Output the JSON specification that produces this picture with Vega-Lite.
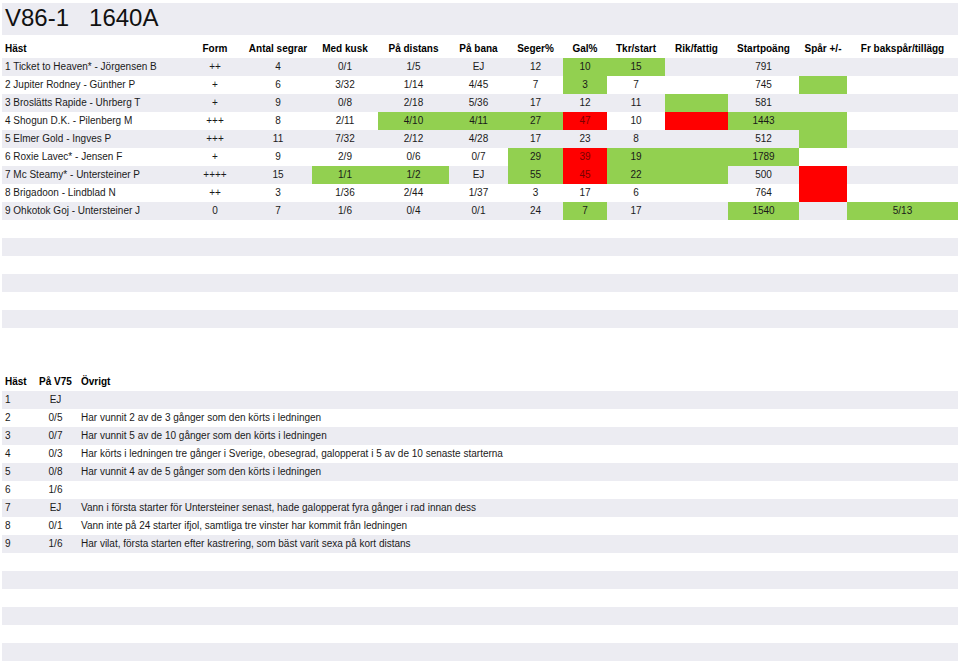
{
  "$schema": "https://vega.github.io/schema/vega-lite/v6.json",
  "padding": {"left": 2, "top": 3, "right": 2, "bottom": 0},
  "background": "white",
  "config": {
    "view": {"stroke": null},
    "text": {"font": "Liberation Sans", "fontSize": 10, "color": "#1a1a1a"},
    "concat": {"spacing": 0}
  },
  "datasets": {
    "stripes": [{"row": 1}, {"row": 3}, {"row": 5}, {"row": 7}, {"row": 9}, {"row": 11}, {"row": 13}, {"row": 15}],
    "up": [
      {"row": 0, "col": "a", "txt": "Häst"}, {"row": 0, "col": "b", "txt": "Form"}, {"row": 0, "col": "c", "txt": "Antal segrar"}, {"row": 0, "col": "d", "txt": "Med kusk"}, {"row": 0, "col": "e", "txt": "På distans"}, {"row": 0, "col": "f", "txt": "På bana"}, {"row": 0, "col": "g", "txt": "Seger%"}, {"row": 0, "col": "h", "txt": "Gal%"}, {"row": 0, "col": "i", "txt": "Tkr/start"}, {"row": 0, "col": "j", "txt": "Rik/fattig"}, {"row": 0, "col": "k", "txt": "Startpoäng"}, {"row": 0, "col": "l", "txt": "Spår +/-"}, {"row": 0, "col": "m", "txt": "Fr bakspår/tillägg"},
      {"row": 1, "col": "a", "txt": "1 Ticket to Heaven* - Jörgensen B"}, {"row": 1, "col": "b", "txt": "++"}, {"row": 1, "col": "c", "txt": "4"}, {"row": 1, "col": "d", "txt": "0/1"}, {"row": 1, "col": "e", "txt": "1/5"}, {"row": 1, "col": "f", "txt": "EJ"}, {"row": 1, "col": "g", "txt": "12"}, {"row": 1, "col": "h", "txt": "10", "fill": "g"}, {"row": 1, "col": "i", "txt": "15", "fill": "g"}, {"row": 1, "col": "k", "txt": "791"},
      {"row": 2, "col": "a", "txt": "2 Jupiter Rodney - Günther P"}, {"row": 2, "col": "b", "txt": "+"}, {"row": 2, "col": "c", "txt": "6"}, {"row": 2, "col": "d", "txt": "3/32"}, {"row": 2, "col": "e", "txt": "1/14"}, {"row": 2, "col": "f", "txt": "4/45"}, {"row": 2, "col": "g", "txt": "7"}, {"row": 2, "col": "h", "txt": "3", "fill": "g"}, {"row": 2, "col": "i", "txt": "7"}, {"row": 2, "col": "k", "txt": "745"}, {"row": 2, "col": "l", "txt": "", "fill": "g"},
      {"row": 3, "col": "a", "txt": "3 Broslätts Rapide - Uhrberg T"}, {"row": 3, "col": "b", "txt": "+"}, {"row": 3, "col": "c", "txt": "9"}, {"row": 3, "col": "d", "txt": "0/8"}, {"row": 3, "col": "e", "txt": "2/18"}, {"row": 3, "col": "f", "txt": "5/36"}, {"row": 3, "col": "g", "txt": "17"}, {"row": 3, "col": "h", "txt": "12"}, {"row": 3, "col": "i", "txt": "11"}, {"row": 3, "col": "j", "txt": "", "fill": "g"}, {"row": 3, "col": "k", "txt": "581"},
      {"row": 4, "col": "a", "txt": "4 Shogun D.K. - Pilenberg M"}, {"row": 4, "col": "b", "txt": "+++"}, {"row": 4, "col": "c", "txt": "8"}, {"row": 4, "col": "d", "txt": "2/11"}, {"row": 4, "col": "e", "txt": "4/10", "fill": "g"}, {"row": 4, "col": "f", "txt": "4/11", "fill": "g"}, {"row": 4, "col": "g", "txt": "27", "fill": "g"}, {"row": 4, "col": "h", "txt": "47", "fill": "r"}, {"row": 4, "col": "i", "txt": "10"}, {"row": 4, "col": "j", "txt": "", "fill": "r"}, {"row": 4, "col": "k", "txt": "1443", "fill": "g"}, {"row": 4, "col": "l", "txt": "", "fill": "g"},
      {"row": 5, "col": "a", "txt": "5 Elmer Gold - Ingves P"}, {"row": 5, "col": "b", "txt": "+++"}, {"row": 5, "col": "c", "txt": "11"}, {"row": 5, "col": "d", "txt": "7/32"}, {"row": 5, "col": "e", "txt": "2/12"}, {"row": 5, "col": "f", "txt": "4/28"}, {"row": 5, "col": "g", "txt": "17"}, {"row": 5, "col": "h", "txt": "23"}, {"row": 5, "col": "i", "txt": "8"}, {"row": 5, "col": "k", "txt": "512"}, {"row": 5, "col": "l", "txt": "", "fill": "g"},
      {"row": 6, "col": "a", "txt": "6 Roxie Lavec* - Jensen F"}, {"row": 6, "col": "b", "txt": "+"}, {"row": 6, "col": "c", "txt": "9"}, {"row": 6, "col": "d", "txt": "2/9"}, {"row": 6, "col": "e", "txt": "0/6"}, {"row": 6, "col": "f", "txt": "0/7"}, {"row": 6, "col": "g", "txt": "29", "fill": "g"}, {"row": 6, "col": "h", "txt": "39", "fill": "r"}, {"row": 6, "col": "i", "txt": "19", "fill": "g"}, {"row": 6, "col": "j", "txt": "", "fill": "g"}, {"row": 6, "col": "k", "txt": "1789", "fill": "g"},
      {"row": 7, "col": "a", "txt": "7 Mc Steamy* - Untersteiner P"}, {"row": 7, "col": "b", "txt": "++++"}, {"row": 7, "col": "c", "txt": "15"}, {"row": 7, "col": "d", "txt": "1/1", "fill": "g"}, {"row": 7, "col": "e", "txt": "1/2", "fill": "g"}, {"row": 7, "col": "f", "txt": "EJ"}, {"row": 7, "col": "g", "txt": "55", "fill": "g"}, {"row": 7, "col": "h", "txt": "45", "fill": "r"}, {"row": 7, "col": "i", "txt": "22", "fill": "g"}, {"row": 7, "col": "j", "txt": "", "fill": "g"}, {"row": 7, "col": "k", "txt": "500"}, {"row": 7, "col": "l", "txt": "", "fill": "r"},
      {"row": 8, "col": "a", "txt": "8 Brigadoon - Lindblad N"}, {"row": 8, "col": "b", "txt": "++"}, {"row": 8, "col": "c", "txt": "3"}, {"row": 8, "col": "d", "txt": "1/36"}, {"row": 8, "col": "e", "txt": "2/44"}, {"row": 8, "col": "f", "txt": "1/37"}, {"row": 8, "col": "g", "txt": "3"}, {"row": 8, "col": "h", "txt": "17"}, {"row": 8, "col": "i", "txt": "6"}, {"row": 8, "col": "k", "txt": "764"}, {"row": 8, "col": "l", "txt": "", "fill": "r"},
      {"row": 9, "col": "a", "txt": "9 Ohkotok Goj - Untersteiner J"}, {"row": 9, "col": "b", "txt": "0"}, {"row": 9, "col": "c", "txt": "7"}, {"row": 9, "col": "d", "txt": "1/6"}, {"row": 9, "col": "e", "txt": "0/4"}, {"row": 9, "col": "f", "txt": "0/1"}, {"row": 9, "col": "g", "txt": "24"}, {"row": 9, "col": "h", "txt": "7", "fill": "g"}, {"row": 9, "col": "i", "txt": "17"}, {"row": 9, "col": "k", "txt": "1540", "fill": "g"}, {"row": 9, "col": "m", "txt": "5/13", "fill": "g"}
    ],
    "lo": [
      {"row": 0, "col": "a", "txt": "Häst"}, {"row": 0, "col": "b", "txt": "På V75"}, {"row": 0, "col": "c", "txt": "Övrigt"},
      {"row": 1, "col": "a", "txt": "1"}, {"row": 1, "col": "b", "txt": "EJ"},
      {"row": 2, "col": "a", "txt": "2"}, {"row": 2, "col": "b", "txt": "0/5"}, {"row": 2, "col": "c", "txt": "Har vunnit 2 av de 3 gånger som den körts i ledningen"},
      {"row": 3, "col": "a", "txt": "3"}, {"row": 3, "col": "b", "txt": "0/7"}, {"row": 3, "col": "c", "txt": "Har vunnit 5 av de 10 gånger som den körts i ledningen"},
      {"row": 4, "col": "a", "txt": "4"}, {"row": 4, "col": "b", "txt": "0/3"}, {"row": 4, "col": "c", "txt": "Har körts i ledningen tre gånger i Sverige, obesegrad, galopperat i 5 av de 10 senaste starterna"},
      {"row": 5, "col": "a", "txt": "5"}, {"row": 5, "col": "b", "txt": "0/8"}, {"row": 5, "col": "c", "txt": "Har vunnit 4 av de 5 gånger som den körts i ledningen"},
      {"row": 6, "col": "a", "txt": "6"}, {"row": 6, "col": "b", "txt": "1/6"},
      {"row": 7, "col": "a", "txt": "7"}, {"row": 7, "col": "b", "txt": "EJ"}, {"row": 7, "col": "c", "txt": "Vann i första starter för Untersteiner senast, hade galopperat fyra gånger i rad innan dess"},
      {"row": 8, "col": "a", "txt": "8"}, {"row": 8, "col": "b", "txt": "0/1"}, {"row": 8, "col": "c", "txt": "Vann inte på 24 starter ifjol, samtliga tre vinster har kommit från ledningen"},
      {"row": 9, "col": "a", "txt": "9"}, {"row": 9, "col": "b", "txt": "1/6"}, {"row": 9, "col": "c", "txt": "Har vilat, första starten efter kastrering, som bäst varit sexa på kort distans"}
    ],
    "title": [{"txt": "V86-1\u00a0\u00a0\u00a01640A"}]
  },
  "spacing": 45,
  "vconcat": [
    {
      "spacing": 5,
      "vconcat": [
        {
          "width": 956, "height": 32,
          "data": {"name": "title"},
          "layer": [
            {"mark": {"type": "rect", "color": "#ECECF2"}, "encoding": {}},
            {"mark": {"type": "text", "align": "left", "dx": 3, "fontSize": 24, "color": "#111"}, "encoding": {"x": {"value": 0}, "text": {"field": "txt"}}}
          ]
        },
        {
          "spacing": 0,
          "hconcat": [
            {"width": 184, "height": 288, "encoding": {"y": {"field": "row", "type": "ordinal", "axis": null, "scale": {"domain": [0,1,2,3,4,5,6,7,8,9,10,11,12,13,14,15], "paddingInner": 0, "paddingOuter": 0}}},
             "layer": [
              {"data": {"name": "stripes"}, "mark": {"type": "rect", "color": "#ECECF2"}},
              {"data": {"name": "up"}, "transform": [{"filter": "datum.col === 'a' && datum.row > 0"}], "mark": {"type": "text", "align": "left", "dx": 3}, "encoding": {"x": {"value": 0}, "text": {"field": "txt"}}},
              {"data": {"name": "up"}, "transform": [{"filter": "datum.col === 'a' && datum.row === 0"}], "mark": {"type": "text", "align": "left", "dx": 3, "fontWeight": "bold", "color": "#000"}, "encoding": {"x": {"value": 0}, "text": {"field": "txt"}}}
             ]},
            {"width": 58, "height": 288, "encoding": {"y": {"field": "row", "type": "ordinal", "axis": null, "scale": {"domain": [0,1,2,3,4,5,6,7,8,9,10,11,12,13,14,15], "paddingInner": 0, "paddingOuter": 0}}},
             "layer": [
              {"data": {"name": "stripes"}, "mark": {"type": "rect", "color": "#ECECF2"}},
              {"data": {"name": "up"}, "transform": [{"filter": "datum.col === 'b' && datum.row > 0"}], "mark": "text", "encoding": {"text": {"field": "txt"}}},
              {"data": {"name": "up"}, "transform": [{"filter": "datum.col === 'b' && datum.row === 0"}], "mark": {"type": "text", "fontWeight": "bold", "color": "#000"}, "encoding": {"text": {"field": "txt"}}}
             ]},
            {"width": 68, "height": 288, "encoding": {"y": {"field": "row", "type": "ordinal", "axis": null, "scale": {"domain": [0,1,2,3,4,5,6,7,8,9,10,11,12,13,14,15], "paddingInner": 0, "paddingOuter": 0}}},
             "layer": [
              {"data": {"name": "stripes"}, "mark": {"type": "rect", "color": "#ECECF2"}},
              {"data": {"name": "up"}, "transform": [{"filter": "datum.col === 'c' && datum.row > 0"}], "mark": "text", "encoding": {"text": {"field": "txt"}}},
              {"data": {"name": "up"}, "transform": [{"filter": "datum.col === 'c' && datum.row === 0"}], "mark": {"type": "text", "fontWeight": "bold", "color": "#000"}, "encoding": {"text": {"field": "txt"}}}
             ]},
            {"width": 66, "height": 288, "encoding": {"y": {"field": "row", "type": "ordinal", "axis": null, "scale": {"domain": [0,1,2,3,4,5,6,7,8,9,10,11,12,13,14,15], "paddingInner": 0, "paddingOuter": 0}}},
             "layer": [
              {"data": {"name": "stripes"}, "mark": {"type": "rect", "color": "#ECECF2"}},
              {"data": {"name": "up"}, "transform": [{"filter": "datum.col === 'd' && datum.fill"}], "mark": "rect", "encoding": {"color": {"field": "fill", "type": "nominal", "legend": null, "scale": {"domain": ["g", "r"], "range": ["#92D050", "#FF0000"]}}}},
              {"data": {"name": "up"}, "transform": [{"filter": "datum.col === 'd' && datum.row > 0"}], "mark": "text", "encoding": {"text": {"field": "txt"}, "color": {"condition": {"test": "datum.fill === 'r'", "value": "#7a0000"}, "value": "#1a1a1a"}}},
              {"data": {"name": "up"}, "transform": [{"filter": "datum.col === 'd' && datum.row === 0"}], "mark": {"type": "text", "fontWeight": "bold", "color": "#000"}, "encoding": {"text": {"field": "txt"}}}
             ]},
            {"width": 71, "height": 288, "encoding": {"y": {"field": "row", "type": "ordinal", "axis": null, "scale": {"domain": [0,1,2,3,4,5,6,7,8,9,10,11,12,13,14,15], "paddingInner": 0, "paddingOuter": 0}}},
             "layer": [
              {"data": {"name": "stripes"}, "mark": {"type": "rect", "color": "#ECECF2"}},
              {"data": {"name": "up"}, "transform": [{"filter": "datum.col === 'e' && datum.fill"}], "mark": "rect", "encoding": {"color": {"field": "fill", "type": "nominal", "legend": null, "scale": {"domain": ["g", "r"], "range": ["#92D050", "#FF0000"]}}}},
              {"data": {"name": "up"}, "transform": [{"filter": "datum.col === 'e' && datum.row > 0"}], "mark": "text", "encoding": {"text": {"field": "txt"}, "color": {"condition": {"test": "datum.fill === 'r'", "value": "#7a0000"}, "value": "#1a1a1a"}}},
              {"data": {"name": "up"}, "transform": [{"filter": "datum.col === 'e' && datum.row === 0"}], "mark": {"type": "text", "fontWeight": "bold", "color": "#000"}, "encoding": {"text": {"field": "txt"}}}
             ]},
            {"width": 59, "height": 288, "encoding": {"y": {"field": "row", "type": "ordinal", "axis": null, "scale": {"domain": [0,1,2,3,4,5,6,7,8,9,10,11,12,13,14,15], "paddingInner": 0, "paddingOuter": 0}}},
             "layer": [
              {"data": {"name": "stripes"}, "mark": {"type": "rect", "color": "#ECECF2"}},
              {"data": {"name": "up"}, "transform": [{"filter": "datum.col === 'f' && datum.fill"}], "mark": "rect", "encoding": {"color": {"field": "fill", "type": "nominal", "legend": null, "scale": {"domain": ["g", "r"], "range": ["#92D050", "#FF0000"]}}}},
              {"data": {"name": "up"}, "transform": [{"filter": "datum.col === 'f' && datum.row > 0"}], "mark": "text", "encoding": {"text": {"field": "txt"}, "color": {"condition": {"test": "datum.fill === 'r'", "value": "#7a0000"}, "value": "#1a1a1a"}}},
              {"data": {"name": "up"}, "transform": [{"filter": "datum.col === 'f' && datum.row === 0"}], "mark": {"type": "text", "fontWeight": "bold", "color": "#000"}, "encoding": {"text": {"field": "txt"}}}
             ]},
            {"width": 55, "height": 288, "encoding": {"y": {"field": "row", "type": "ordinal", "axis": null, "scale": {"domain": [0,1,2,3,4,5,6,7,8,9,10,11,12,13,14,15], "paddingInner": 0, "paddingOuter": 0}}},
             "layer": [
              {"data": {"name": "stripes"}, "mark": {"type": "rect", "color": "#ECECF2"}},
              {"data": {"name": "up"}, "transform": [{"filter": "datum.col === 'g' && datum.fill"}], "mark": "rect", "encoding": {"color": {"field": "fill", "type": "nominal", "legend": null, "scale": {"domain": ["g", "r"], "range": ["#92D050", "#FF0000"]}}}},
              {"data": {"name": "up"}, "transform": [{"filter": "datum.col === 'g' && datum.row > 0"}], "mark": "text", "encoding": {"text": {"field": "txt"}, "color": {"condition": {"test": "datum.fill === 'r'", "value": "#7a0000"}, "value": "#1a1a1a"}}},
              {"data": {"name": "up"}, "transform": [{"filter": "datum.col === 'g' && datum.row === 0"}], "mark": {"type": "text", "fontWeight": "bold", "color": "#000"}, "encoding": {"text": {"field": "txt"}}}
             ]},
            {"width": 44, "height": 288, "encoding": {"y": {"field": "row", "type": "ordinal", "axis": null, "scale": {"domain": [0,1,2,3,4,5,6,7,8,9,10,11,12,13,14,15], "paddingInner": 0, "paddingOuter": 0}}},
             "layer": [
              {"data": {"name": "stripes"}, "mark": {"type": "rect", "color": "#ECECF2"}},
              {"data": {"name": "up"}, "transform": [{"filter": "datum.col === 'h' && datum.fill"}], "mark": "rect", "encoding": {"color": {"field": "fill", "type": "nominal", "legend": null, "scale": {"domain": ["g", "r"], "range": ["#92D050", "#FF0000"]}}}},
              {"data": {"name": "up"}, "transform": [{"filter": "datum.col === 'h' && datum.row > 0"}], "mark": "text", "encoding": {"text": {"field": "txt"}, "color": {"condition": {"test": "datum.fill === 'r'", "value": "#7a0000"}, "value": "#1a1a1a"}}},
              {"data": {"name": "up"}, "transform": [{"filter": "datum.col === 'h' && datum.row === 0"}], "mark": {"type": "text", "fontWeight": "bold", "color": "#000"}, "encoding": {"text": {"field": "txt"}}}
             ]},
            {"width": 58, "height": 288, "encoding": {"y": {"field": "row", "type": "ordinal", "axis": null, "scale": {"domain": [0,1,2,3,4,5,6,7,8,9,10,11,12,13,14,15], "paddingInner": 0, "paddingOuter": 0}}},
             "layer": [
              {"data": {"name": "stripes"}, "mark": {"type": "rect", "color": "#ECECF2"}},
              {"data": {"name": "up"}, "transform": [{"filter": "datum.col === 'i' && datum.fill"}], "mark": "rect", "encoding": {"color": {"field": "fill", "type": "nominal", "legend": null, "scale": {"domain": ["g", "r"], "range": ["#92D050", "#FF0000"]}}}},
              {"data": {"name": "up"}, "transform": [{"filter": "datum.col === 'i' && datum.row > 0"}], "mark": "text", "encoding": {"text": {"field": "txt"}, "color": {"condition": {"test": "datum.fill === 'r'", "value": "#7a0000"}, "value": "#1a1a1a"}}},
              {"data": {"name": "up"}, "transform": [{"filter": "datum.col === 'i' && datum.row === 0"}], "mark": {"type": "text", "fontWeight": "bold", "color": "#000"}, "encoding": {"text": {"field": "txt"}}}
             ]},
            {"width": 63, "height": 288, "encoding": {"y": {"field": "row", "type": "ordinal", "axis": null, "scale": {"domain": [0,1,2,3,4,5,6,7,8,9,10,11,12,13,14,15], "paddingInner": 0, "paddingOuter": 0}}},
             "layer": [
              {"data": {"name": "stripes"}, "mark": {"type": "rect", "color": "#ECECF2"}},
              {"data": {"name": "up"}, "transform": [{"filter": "datum.col === 'j' && datum.fill"}], "mark": "rect", "encoding": {"color": {"field": "fill", "type": "nominal", "legend": null, "scale": {"domain": ["g", "r"], "range": ["#92D050", "#FF0000"]}}}},
              {"data": {"name": "up"}, "transform": [{"filter": "datum.col === 'j' && datum.row > 0"}], "mark": "text", "encoding": {"text": {"field": "txt"}, "color": {"condition": {"test": "datum.fill === 'r'", "value": "#7a0000"}, "value": "#1a1a1a"}}},
              {"data": {"name": "up"}, "transform": [{"filter": "datum.col === 'j' && datum.row === 0"}], "mark": {"type": "text", "fontWeight": "bold", "color": "#000"}, "encoding": {"text": {"field": "txt"}}}
             ]},
            {"width": 71, "height": 288, "encoding": {"y": {"field": "row", "type": "ordinal", "axis": null, "scale": {"domain": [0,1,2,3,4,5,6,7,8,9,10,11,12,13,14,15], "paddingInner": 0, "paddingOuter": 0}}},
             "layer": [
              {"data": {"name": "stripes"}, "mark": {"type": "rect", "color": "#ECECF2"}},
              {"data": {"name": "up"}, "transform": [{"filter": "datum.col === 'k' && datum.fill"}], "mark": "rect", "encoding": {"color": {"field": "fill", "type": "nominal", "legend": null, "scale": {"domain": ["g", "r"], "range": ["#92D050", "#FF0000"]}}}},
              {"data": {"name": "up"}, "transform": [{"filter": "datum.col === 'k' && datum.row > 0"}], "mark": "text", "encoding": {"text": {"field": "txt"}, "color": {"condition": {"test": "datum.fill === 'r'", "value": "#7a0000"}, "value": "#1a1a1a"}}},
              {"data": {"name": "up"}, "transform": [{"filter": "datum.col === 'k' && datum.row === 0"}], "mark": {"type": "text", "fontWeight": "bold", "color": "#000"}, "encoding": {"text": {"field": "txt"}}}
             ]},
            {"width": 48, "height": 288, "encoding": {"y": {"field": "row", "type": "ordinal", "axis": null, "scale": {"domain": [0,1,2,3,4,5,6,7,8,9,10,11,12,13,14,15], "paddingInner": 0, "paddingOuter": 0}}},
             "layer": [
              {"data": {"name": "stripes"}, "mark": {"type": "rect", "color": "#ECECF2"}},
              {"data": {"name": "up"}, "transform": [{"filter": "datum.col === 'l' && datum.fill"}], "mark": "rect", "encoding": {"color": {"field": "fill", "type": "nominal", "legend": null, "scale": {"domain": ["g", "r"], "range": ["#92D050", "#FF0000"]}}}},
              {"data": {"name": "up"}, "transform": [{"filter": "datum.col === 'l' && datum.row > 0"}], "mark": "text", "encoding": {"text": {"field": "txt"}, "color": {"condition": {"test": "datum.fill === 'r'", "value": "#7a0000"}, "value": "#1a1a1a"}}},
              {"data": {"name": "up"}, "transform": [{"filter": "datum.col === 'l' && datum.row === 0"}], "mark": {"type": "text", "fontWeight": "bold", "color": "#000"}, "encoding": {"text": {"field": "txt"}}}
             ]},
            {"width": 111, "height": 288, "encoding": {"y": {"field": "row", "type": "ordinal", "axis": null, "scale": {"domain": [0,1,2,3,4,5,6,7,8,9,10,11,12,13,14,15], "paddingInner": 0, "paddingOuter": 0}}},
             "layer": [
              {"data": {"name": "stripes"}, "mark": {"type": "rect", "color": "#ECECF2"}},
              {"data": {"name": "up"}, "transform": [{"filter": "datum.col === 'm' && datum.fill"}], "mark": "rect", "encoding": {"color": {"field": "fill", "type": "nominal", "legend": null, "scale": {"domain": ["g", "r"], "range": ["#92D050", "#FF0000"]}}}},
              {"data": {"name": "up"}, "transform": [{"filter": "datum.col === 'm' && datum.row > 0"}], "mark": "text", "encoding": {"text": {"field": "txt"}, "color": {"condition": {"test": "datum.fill === 'r'", "value": "#7a0000"}, "value": "#1a1a1a"}}},
              {"data": {"name": "up"}, "transform": [{"filter": "datum.col === 'm' && datum.row === 0"}], "mark": {"type": "text", "fontWeight": "bold", "color": "#000"}, "encoding": {"text": {"field": "txt"}}}
             ]}
          ]
        }
      ]
    },
    {
      "spacing": 0,
      "hconcat": [
        {"width": 32, "height": 288, "encoding": {"y": {"field": "row", "type": "ordinal", "axis": null, "scale": {"domain": [0,1,2,3,4,5,6,7,8,9,10,11,12,13,14,15], "paddingInner": 0, "paddingOuter": 0}}},
         "layer": [
          {"data": {"name": "stripes"}, "mark": {"type": "rect", "color": "#ECECF2"}},
          {"data": {"name": "lo"}, "transform": [{"filter": "datum.col === 'a' && datum.row > 0"}], "mark": {"type": "text", "align": "left", "dx": 3}, "encoding": {"x": {"value": 0}, "text": {"field": "txt"}}},
          {"data": {"name": "lo"}, "transform": [{"filter": "datum.col === 'a' && datum.row === 0"}], "mark": {"type": "text", "align": "left", "dx": 3, "fontWeight": "bold", "color": "#000"}, "encoding": {"x": {"value": 0}, "text": {"field": "txt"}}}
         ]},
        {"width": 43, "height": 288, "encoding": {"y": {"field": "row", "type": "ordinal", "axis": null, "scale": {"domain": [0,1,2,3,4,5,6,7,8,9,10,11,12,13,14,15], "paddingInner": 0, "paddingOuter": 0}}},
         "layer": [
          {"data": {"name": "stripes"}, "mark": {"type": "rect", "color": "#ECECF2"}},
          {"data": {"name": "lo"}, "transform": [{"filter": "datum.col === 'b' && datum.row > 0"}], "mark": "text", "encoding": {"text": {"field": "txt"}}},
          {"data": {"name": "lo"}, "transform": [{"filter": "datum.col === 'b' && datum.row === 0"}], "mark": {"type": "text", "fontWeight": "bold", "color": "#000"}, "encoding": {"text": {"field": "txt"}}}
         ]},
        {"width": 881, "height": 288, "encoding": {"y": {"field": "row", "type": "ordinal", "axis": null, "scale": {"domain": [0,1,2,3,4,5,6,7,8,9,10,11,12,13,14,15], "paddingInner": 0, "paddingOuter": 0}}},
         "layer": [
          {"data": {"name": "stripes"}, "mark": {"type": "rect", "color": "#ECECF2"}},
          {"data": {"name": "lo"}, "transform": [{"filter": "datum.col === 'c' && datum.row > 0"}], "mark": {"type": "text", "align": "left", "dx": 4}, "encoding": {"x": {"value": 0}, "text": {"field": "txt"}}},
          {"data": {"name": "lo"}, "transform": [{"filter": "datum.col === 'c' && datum.row === 0"}], "mark": {"type": "text", "align": "left", "dx": 4, "fontWeight": "bold", "color": "#000"}, "encoding": {"x": {"value": 0}, "text": {"field": "txt"}}}
         ]}
      ]
    }
  ]
}
